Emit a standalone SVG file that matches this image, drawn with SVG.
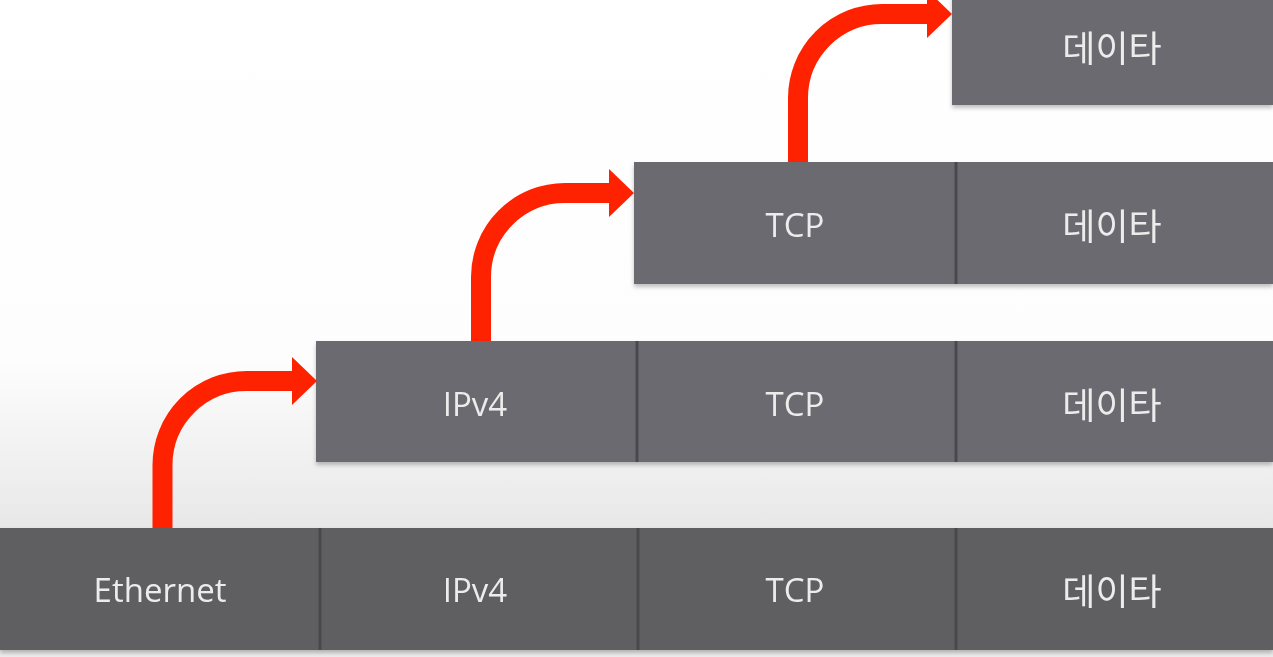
<svg xmlns="http://www.w3.org/2000/svg" width="1273" height="657" viewBox="0 0 1273 657">
<defs>
<linearGradient id="bg" x1="0" y1="0" x2="0" y2="1">
<stop offset="0" stop-color="#ffffff"/>
<stop offset="0.55" stop-color="#fdfdfd"/>
<stop offset="0.8" stop-color="#e8e8e8"/>
<stop offset="1" stop-color="#ededed"/>
</linearGradient>
<filter id="sh" x="-5%" y="-5%" width="110%" height="120%">
<feDropShadow dx="0" dy="3" stdDeviation="2" flood-color="#000" flood-opacity="0.25"/>
</filter>
<style>
.box{fill:#6b6b6f;}
.box4{fill:#5f5f62;}
.sep{stroke:#4a4a4e;stroke-width:3;}
.lbl{font-family:"Open Sans","Noto Sans","Noto Sans CJK KR",sans-serif;font-size:33px;fill:#ececec;text-anchor:middle;dominant-baseline:central;}
.kr{font-family:"Noto Sans CJK KR",sans-serif;font-weight:normal;font-size:36px;fill:#ececec;text-anchor:middle;dominant-baseline:central;}
.shaft{fill:none;stroke:#ff2200;stroke-width:20;}
.head{fill:#ff2200;}
</style>
</defs>
<rect x="0" y="0" width="1273" height="657" fill="url(#bg)"/>

<g id="row1" filter="url(#sh)">
<g id="r1-data"><rect class="box" x="952" y="-20" width="321" height="125"/><text class="kr" x="1112" y="46">데이타</text></g>
</g>

<g id="row2" filter="url(#sh)">
<g id="r2-tcp"><rect class="box" x="634" y="162" width="321" height="122"/><text class="lbl" x="795" y="224">TCP</text></g>
<g id="r2-data"><rect class="box" x="955" y="162" width="318" height="122"/><line class="sep" x1="956" y1="162" x2="956" y2="284"/><text class="kr" x="1112" y="224">데이타</text></g>
</g>

<g id="row3" filter="url(#sh)">
<g id="r3-ipv4"><rect class="box" x="316" y="341" width="320" height="121"/><text class="lbl" x="475" y="403">IPv4</text></g>
<g id="r3-tcp"><rect class="box" x="636" y="341" width="319" height="121"/><line class="sep" x1="637" y1="341" x2="637" y2="462"/><text class="lbl" x="795" y="403">TCP</text></g>
<g id="r3-data"><rect class="box" x="955" y="341" width="318" height="121"/><line class="sep" x1="956" y1="341" x2="956" y2="462"/><text class="kr" x="1112" y="403">데이타</text></g>
</g>

<g id="row4" filter="url(#sh)">
<g id="r4-eth"><rect class="box4" x="0" y="528" width="319" height="122"/><text class="lbl" x="160" y="589">Ethernet</text></g>
<g id="r4-ipv4"><rect class="box4" x="319" y="528" width="318" height="122"/><line class="sep" x1="320" y1="528" x2="320" y2="650"/><text class="lbl" x="475" y="589">IPv4</text></g>
<g id="r4-tcp"><rect class="box4" x="637" y="528" width="318" height="122"/><line class="sep" x1="638" y1="528" x2="638" y2="650"/><text class="lbl" x="795" y="589">TCP</text></g>
<g id="r4-data"><rect class="box4" x="955" y="528" width="318" height="122"/><line class="sep" x1="956" y1="528" x2="956" y2="650"/><text class="kr" x="1112" y="589">데이타</text></g>
</g>

<g id="connectors">
<path class="shaft" d="M162.5,528 V465 A84,84 0 0 1 246.5,381 H296"/>
<polygon class="head" points="292,357 317,381 292,405"/>
<path class="shaft" d="M481,341 V277 A84,84 0 0 1 565,193 H612"/>
<polygon class="head" points="609,169 634,193 609,217"/>
<path class="shaft" d="M798,162 V98 A84,84 0 0 1 882,14 H930"/>
<polygon class="head" points="927,-10 952,14 927,38"/>
</g>
</svg>
